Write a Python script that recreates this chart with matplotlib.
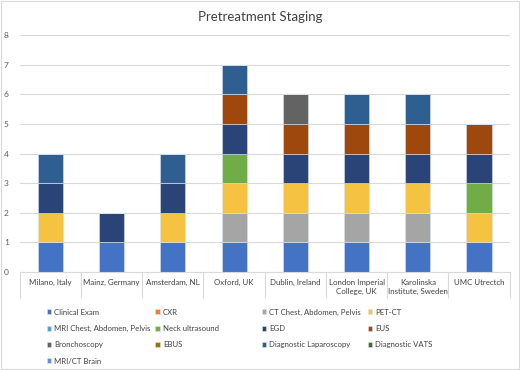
import matplotlib
matplotlib.use('Agg')
import matplotlib.pyplot as plt
import numpy as np

plt.rcParams['font.family'] = ['Lato', 'DejaVu Sans']

sites = ['Milano, Italy', 'Mainz, Germany', 'Amsterdam, NL', 'Oxford, UK',
         'Dublin, Ireland', 'London Imperial\nCollege, UK',
         'Karolinska\nInstitute, Sweden', 'UMC Utrectch']

methods = ['Clinical Exam', 'CXR', 'CT Chest, Abdomen, Pelvis', 'PET-CT',
           'MRI Chest, Abdomen, Pelvis', 'Neck ultrasound', 'EGD', 'EUS',
           'Bronchoscopy', 'EBUS', 'Diagnostic Laparoscopy', 'Diagnostic VATS',
           'MRI/CT Brain']

colors = ['#4472C4', '#ED7D31', '#A5A5A5', '#F5C242', '#5B9BD5', '#70AD47',
          '#2A4478', '#9E480E', '#636363', '#997300', '#2F5E91', '#43682B',
          '#698ED0']

# rows = methods, columns = sites
clinical_exam = [1, 1, 1, 1, 1, 1, 1, 1]
cxr           = [0, 0, 0, 0, 0, 0, 0, 0]
ct_cap        = [0, 0, 0, 1, 1, 1, 1, 0]
pet_ct        = [1, 0, 1, 1, 1, 1, 1, 1]
mri_cap       = [0, 0, 0, 0, 0, 0, 0, 0]
neck_us       = [0, 0, 0, 1, 0, 0, 0, 1]
egd           = [1, 1, 1, 1, 1, 1, 1, 1]
eus           = [0, 0, 0, 1, 1, 1, 1, 1]
bronchoscopy  = [0, 0, 0, 0, 1, 0, 0, 0]
ebus          = [0, 0, 0, 0, 0, 0, 0, 0]
diag_lap      = [1, 0, 1, 1, 0, 1, 1, 0]
diag_vats     = [0, 0, 0, 0, 0, 0, 0, 0]
mri_ct_brain  = [0, 0, 0, 0, 0, 0, 0, 0]

values = [clinical_exam, cxr, ct_cap, pet_ct, mri_cap, neck_us, egd, eus,
          bronchoscopy, ebus, diag_lap, diag_vats, mri_ct_brain]

fig = plt.figure(figsize=(5.2, 3.7), dpi=100)
ax = fig.add_axes([0.038, 0.265, 0.942, 0.64])

x = np.arange(len(sites))
bottom = np.zeros(len(sites))
for name, vals, c in zip(methods, values, colors):
    ax.bar(x, vals, width=0.41, bottom=bottom, color=c, label=name,
           edgecolor='#dbe3f0', linewidth=0.4)
    bottom += np.array(vals)

ax.set_xlim(-0.5, len(sites) - 0.5)
ax.set_ylim(0, 8)
ax.set_yticks(range(0, 9))
ax.tick_params(axis='y', length=0, labelsize=6, colors='#595959', pad=8)
ax.grid(axis='y', color='#D9D9D9', linewidth=0.8)
ax.set_axisbelow(True)
for s in ['top', 'right', 'left']:
    ax.spines[s].set_visible(False)
ax.spines['bottom'].set_color('#D9D9D9')

ax.set_xticks(x)
ax.set_xticklabels(sites, fontsize=5.7, color='#404040', linespacing=1.35)
ax.tick_params(axis='x', length=0, pad=5)
sep = ax.get_xaxis_transform()
ax.vlines(np.arange(len(sites) + 1) - 0.5, -0.11, 0, transform=sep,
          color='#D9D9D9', linewidth=0.8, clip_on=False)

fig.text(0.5, 0.955, 'Pretreatment Staging', ha='center', va='center',
         fontsize=9.5, color='#404040')

# Excel lays the legend out row by row in fixed-width columns:
# one single-column legend per column
handles, labels = ax.get_legend_handles_labels()
legend_cols = [[0, 4, 8, 12], [1, 5, 9], [2, 6, 10], [3, 7, 11]]
col_x = [0.09, 0.299, 0.503, 0.707]
for idx, cx in zip(legend_cols, col_x):
    fig.legend([handles[i] for i in idx], [labels[i] for i in idx],
               loc='upper left', bbox_to_anchor=(cx, 0.166), ncol=1,
               fontsize=5.6, frameon=False, handlelength=0.6, handleheight=0.6,
               handletextpad=0.35, labelspacing=1.2, borderpad=0,
               borderaxespad=0, labelcolor='#404040')

fig.patches.append(plt.Rectangle((0.002, 0.003), 0.996, 0.994, transform=fig.transFigure,
                                 fill=False, edgecolor='#D9D9D9', linewidth=0.8))

fig.savefig('out.png', dpi=100)
